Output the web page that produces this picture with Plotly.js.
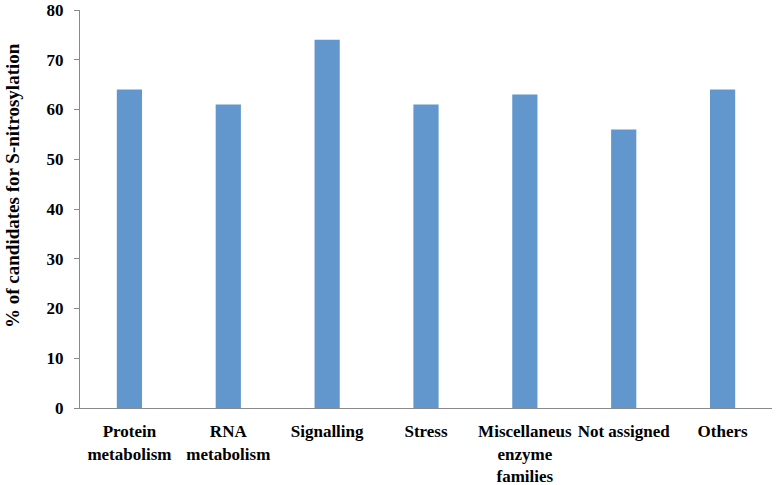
<!DOCTYPE html>
<html>
<head>
<meta charset="utf-8">
<script src="https://cdn.plot.ly/plotly-3.0.1.min.js"></script>
<style>html,body{margin:0;padding:0;background:#fff;}#chart{width:777px;height:485px;}</style>
</head>
<body>
<div id="chart"></div>
<script>
const categories = ["Protein<br>metabolism", "RNA<br>metabolism", "Signalling", "Stress", "Miscellaneus<br>enzyme<br>families", "Not assigned", "Others"];
const values = [64, 61, 74, 61, 63, 56, 64];
const yTicks = [0, 10, 20, 30, 40, 50, 60, 70, 80];
const yTitle = "% of candidates for S-nitrosylation";

const font = "'Liberation Serif', 'Times New Roman', serif";

Plotly.newPlot("chart", [{
  type: "bar",
  x: categories,
  y: values,
  marker: {color: "#6197CC"},
  hoverinfo: "x+y"
}], {
  width: 777,
  height: 485,
  margin: {l: 80, r: 5, t: 10, b: 77},
  paper_bgcolor: "#fff",
  plot_bgcolor: "#fff",
  bargap: 0.745,
  showlegend: false,
  font: {family: font, color: "#000"},
  xaxis: {
    type: "category",
    showline: true,
    linecolor: "#8a8a8a",
    linewidth: 1,
    ticks: "",
    showgrid: false,
    zeroline: false,
    tickangle: 0,
    tickfont: {family: font, size: 17, color: "#000", weight: "bold"},
    ticklabelstandoff: 8
  },
  yaxis: {
    range: [0, 80],
    tickvals: yTicks,
    ticktext: yTicks.map(String),
    showline: true,
    linecolor: "#8a8a8a",
    linewidth: 1,
    ticks: "outside",
    ticklen: 5,
    tickcolor: "#8a8a8a",
    showgrid: false,
    zeroline: false,
    tickfont: {family: font, size: 17, color: "#000", weight: "bold"},
    ticklabelstandoff: 7
  },
  annotations: [{
    text: "<b>" + yTitle + "</b>",
    textangle: -90,
    xref: "paper", yref: "paper",
    x: -80/692, y: (408-186)/398,
    xanchor: "center", yanchor: "middle",
    xshift: 12,
    showarrow: false,
    font: {family: font, size: 19, color: "#000"}
  }]
}, {displayModeBar: false});
</script>
</body>
</html>
